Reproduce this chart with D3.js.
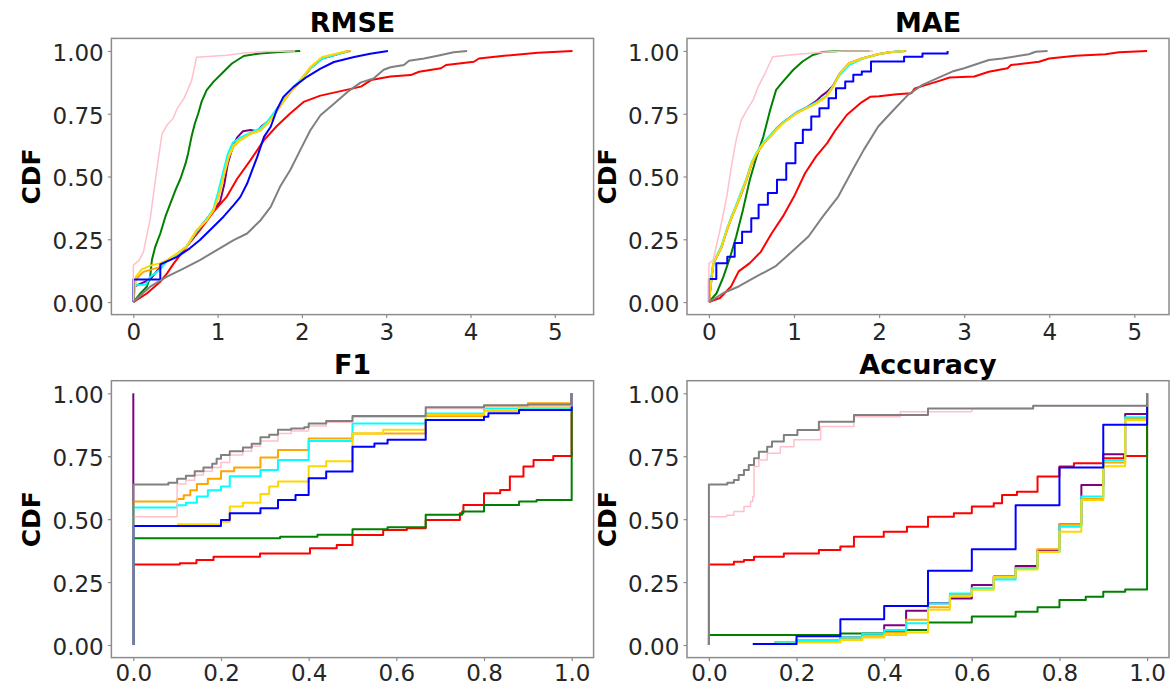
<!DOCTYPE html>
<html>
<head>
<meta charset="utf-8">
<script src="https://cdn.jsdelivr.net/npm/d3@7/dist/d3.min.js"></script>
<style>
  body { margin: 0; background: #fff; }
  svg { display: block; }
</style>
</head>
<body>
<div id="container"></div>
<script>
// series drawn in this order (last on top)
const seriesKeys = ['purple', 'red', 'green', 'orange', 'cyan', 'gold', 'blue', 'pink', 'gray'];
const yTicks = [0, 0.25, 0.5, 0.75, 1.0];
const errTicks = [0, 1, 2, 3, 4, 5];
const rateTicks = [0, 0.2, 0.4, 0.6, 0.8, 1.0];

// ---- RMSE ----
const rmsePink = [[0,0],[0,0.146],[0.07,0.167],[0.12,0.2],[0.2,0.33],[0.28,0.53],[0.34,0.67],[0.4,0.705],[0.47,0.73],[0.52,0.77],[0.6,0.81],[0.69,0.88],[0.75,0.975],[1.11,0.983],[1.31,0.992],[1.59,0.998],[1.92,1.0]];
const rmseGreen = [[0,0],[0.08,0.033],[0.16,0.061],[0.2,0.1],[0.22,0.167],[0.26,0.22],[0.32,0.273],[0.38,0.34],[0.44,0.393],[0.5,0.446],[0.56,0.492],[0.62,0.552],[0.65,0.592],[0.69,0.658],[0.73,0.711],[0.77,0.751],[0.81,0.798],[0.87,0.844],[0.95,0.877],[1.05,0.91],[1.17,0.95],[1.31,0.98],[1.5,0.99],[1.82,0.998],[1.98,1.0]];
const rmsePurple = [[0,0],[0,0.06],[0.2,0.09],[0.32,0.14],[0.4,0.165],[0.52,0.19],[0.63,0.22],[0.75,0.28],[0.87,0.33],[0.96,0.37],[1.03,0.4],[1.08,0.47],[1.12,0.55],[1.18,0.62],[1.23,0.655],[1.3,0.68],[1.39,0.685],[1.47,0.68],[1.52,0.7],[1.6,0.72],[1.68,0.75],[1.77,0.795],[1.87,0.84],[1.98,0.88],[2.1,0.93],[2.24,0.97],[2.4,0.985],[2.55,1.0]];
const rmseCyan = [[0,0],[0,0.066],[0.15,0.07],[0.2,0.1],[0.32,0.13],[0.4,0.165],[0.52,0.19],[0.63,0.22],[0.75,0.28],[0.87,0.33],[0.95,0.37],[1.0,0.43],[1.06,0.51],[1.12,0.59],[1.18,0.635],[1.27,0.655],[1.39,0.675],[1.5,0.69],[1.58,0.715],[1.66,0.75],[1.76,0.795],[1.86,0.84],[1.98,0.885],[2.1,0.93],[2.24,0.97],[2.4,0.985],[2.55,1.0]];
const rmseOrange = [[0,0],[0.03,0.09],[0.12,0.12],[0.32,0.14],[0.4,0.165],[0.52,0.192],[0.63,0.22],[0.75,0.285],[0.87,0.326],[0.95,0.366],[1.01,0.42],[1.07,0.5],[1.13,0.575],[1.19,0.62],[1.27,0.645],[1.39,0.67],[1.51,0.684],[1.59,0.71],[1.67,0.744],[1.76,0.79],[1.86,0.835],[1.98,0.88],[2.1,0.93],[2.24,0.972],[2.4,0.987],[2.58,1.0]];
const rmseGold = [[0,0],[0.03,0.1],[0.1,0.13],[0.2,0.145],[0.32,0.155],[0.4,0.167],[0.52,0.194],[0.63,0.22],[0.75,0.286],[0.87,0.326],[0.95,0.366],[1.01,0.419],[1.07,0.499],[1.13,0.578],[1.19,0.625],[1.27,0.645],[1.39,0.671],[1.51,0.684],[1.59,0.711],[1.67,0.744],[1.76,0.79],[1.86,0.837],[1.98,0.883],[2.1,0.936],[2.24,0.976],[2.38,0.987],[2.54,1.0]];
const rmseBlue = [[0,0],[0,0.09],[0.32,0.09],[0.32,0.15],[0.52,0.18],[0.67,0.214],[0.79,0.247],[0.95,0.3],[1.07,0.34],[1.19,0.386],[1.27,0.419],[1.35,0.472],[1.41,0.525],[1.47,0.578],[1.55,0.658],[1.63,0.698],[1.7,0.764],[1.78,0.817],[1.9,0.857],[2.06,0.897],[2.22,0.93],[2.38,0.956],[2.62,0.976],[2.81,0.989],[3.02,1.0]];
const rmseRed = [[0,0],[0.16,0.034],[0.32,0.081],[0.4,0.114],[0.48,0.154],[0.63,0.22],[0.79,0.286],[0.95,0.359],[1.11,0.42],[1.23,0.49],[1.39,0.565],[1.55,0.645],[1.7,0.7],[1.86,0.751],[2.02,0.797],[2.22,0.822],[2.46,0.84],[2.7,0.858],[2.82,0.884],[3.05,0.898],[3.29,0.904],[3.39,0.917],[3.65,0.931],[3.71,0.944],[4.04,0.957],[4.1,0.97],[4.4,0.981],[4.8,0.993],[5.21,1.0]];
const rmseGray = [[0,0],[0.2,0.061],[0.4,0.101],[0.6,0.134],[0.79,0.167],[0.99,0.207],[1.19,0.247],[1.35,0.273],[1.51,0.326],[1.63,0.379],[1.74,0.459],[1.86,0.525],[1.98,0.605],[2.1,0.684],[2.22,0.744],[2.38,0.79],[2.54,0.837],[2.7,0.875],[2.85,0.89],[2.97,0.925],[3.05,0.935],[3.21,0.944],[3.27,0.961],[3.45,0.97],[3.61,0.981],[3.8,0.995],[3.96,1.0]];

// ---- MAE ----
const maePink = [[0,0],[0,0.154],[0.05,0.167],[0.13,0.287],[0.21,0.42],[0.27,0.552],[0.32,0.645],[0.38,0.725],[0.46,0.772],[0.52,0.805],[0.58,0.858],[0.66,0.911],[0.75,0.977],[0.95,0.984],[1.26,0.993],[1.57,1.0],[1.93,1.0]];
const maeGreen = [[0,0],[0.09,0.035],[0.17,0.1],[0.25,0.18],[0.32,0.26],[0.4,0.367],[0.48,0.486],[0.56,0.579],[0.64,0.659],[0.72,0.765],[0.79,0.845],[0.87,0.878],[0.99,0.924],[1.1,0.958],[1.22,0.984],[1.34,0.996],[1.54,1.0],[1.89,1.0]];
const maePurple = [[0,0],[0.03,0.09],[0.05,0.15],[0.09,0.18],[0.15,0.22],[0.21,0.285],[0.27,0.34],[0.32,0.38],[0.38,0.43],[0.44,0.485],[0.5,0.55],[0.56,0.59],[0.64,0.632],[0.72,0.66],[0.79,0.69],[0.87,0.715],[0.95,0.735],[1.03,0.755],[1.15,0.775],[1.26,0.8],[1.32,0.82],[1.38,0.835],[1.46,0.862],[1.54,0.911],[1.65,0.951],[1.81,0.971],[2.0,0.988],[2.12,0.995],[2.3,1.0]];
const maeCyan = [[0,0],[0,0.07],[0.04,0.12],[0.06,0.16],[0.1,0.19],[0.15,0.225],[0.21,0.29],[0.27,0.345],[0.32,0.385],[0.38,0.44],[0.44,0.49],[0.5,0.555],[0.56,0.595],[0.64,0.635],[0.72,0.665],[0.79,0.69],[0.87,0.715],[0.95,0.735],[1.03,0.755],[1.15,0.775],[1.26,0.795],[1.38,0.82],[1.46,0.86],[1.54,0.905],[1.65,0.945],[1.81,0.97],[2.0,0.988],[2.12,0.995],[2.28,1.0]];
const maeOrange = [[0,0],[0.03,0.09],[0.05,0.15],[0.09,0.178],[0.15,0.218],[0.21,0.285],[0.27,0.338],[0.32,0.378],[0.38,0.432],[0.44,0.485],[0.5,0.55],[0.56,0.59],[0.64,0.63],[0.72,0.658],[0.79,0.685],[0.87,0.712],[0.95,0.732],[1.03,0.752],[1.15,0.772],[1.26,0.791],[1.38,0.818],[1.46,0.858],[1.54,0.911],[1.65,0.951],[1.81,0.971],[2.0,0.988],[2.14,0.995],[2.32,1.0]];
const maeGold = [[0,0],[0.03,0.094],[0.05,0.154],[0.09,0.18],[0.15,0.22],[0.21,0.287],[0.27,0.34],[0.32,0.38],[0.38,0.433],[0.44,0.486],[0.5,0.552],[0.56,0.592],[0.64,0.632],[0.72,0.659],[0.79,0.685],[0.87,0.712],[0.95,0.732],[1.03,0.752],[1.15,0.772],[1.26,0.791],[1.38,0.818],[1.46,0.858],[1.54,0.911],[1.65,0.951],[1.81,0.971],[2.0,0.988],[2.12,0.995],[2.3,1.0]];
const maeBlue = [[0,0],[0,0.092],[0.087,0.155],[0.216,0.18],[0.303,0.235],[0.39,0.28],[0.498,0.334],[0.584,0.387],[0.693,0.434],[0.8,0.487],[0.909,0.553],[1.017,0.633],[1.104,0.686],[1.203,0.739],[1.299,0.772],[1.407,0.812],[1.494,0.851],[1.602,0.878],[1.697,0.905],[1.797,0.918],[1.905,0.958],[2.294,0.977],[2.51,0.99],[2.805,1.0]];
const maeRed = [[0,0],[0.13,0.016],[0.26,0.062],[0.35,0.122],[0.48,0.155],[0.61,0.2],[0.74,0.275],[0.87,0.341],[1.0,0.42],[1.13,0.513],[1.26,0.58],[1.39,0.633],[1.49,0.686],[1.62,0.745],[1.78,0.792],[1.9,0.818],[2.0,0.82],[2.21,0.828],[2.38,0.832],[2.42,0.851],[2.68,0.878],[2.83,0.894],[3.12,0.898],[3.29,0.917],[3.51,0.931],[3.55,0.944],[3.88,0.957],[4.0,0.97],[4.31,0.981],[4.66,0.987],[4.82,0.995],[5.15,1.0]];
const maeGray = [[0,0],[0.17,0.036],[0.35,0.062],[0.56,0.102],[0.78,0.142],[1.0,0.208],[1.17,0.261],[1.34,0.341],[1.52,0.42],[1.69,0.527],[1.82,0.606],[1.99,0.699],[2.17,0.765],[2.34,0.825],[2.51,0.865],[2.68,0.891],[2.86,0.918],[3.0,0.931],[3.29,0.964],[3.45,0.97],[3.76,0.987],[3.84,0.997],[3.98,1.0]];

// ---- F1 (step curves) ----
const f1Purple = [[0,0],[0,1.0]];
const f1Red = [[0,0],[0,0.32],[0.106,0.325],[0.144,0.338],[0.183,0.351],[0.289,0.364],[0.403,0.384],[0.464,0.397],[0.5,0.437],[0.57,0.457],[0.624,0.464],[0.667,0.497],[0.745,0.523],[0.753,0.556],[0.8,0.603],[0.837,0.616],[0.859,0.669],[0.89,0.709],[0.913,0.735],[0.958,0.751],[1.0,1.0]];
const f1Green = [[0,0],[0,0.424],[0.335,0.43],[0.42,0.438],[0.5,0.46],[0.58,0.468],[0.667,0.517],[0.75,0.53],[0.8,0.556],[0.88,0.57],[0.92,0.576],[1.0,1.0]];
const f1Orange = [[0,0],[0,0.57],[0.1,0.58],[0.115,0.595],[0.13,0.615],[0.145,0.64],[0.17,0.66],[0.2,0.69],[0.23,0.705],[0.29,0.745],[0.33,0.775],[0.4,0.82],[0.5,0.84],[0.667,0.91],[0.8,0.95],[0.9,0.96],[1.0,1.0]];
const f1Cyan = [[0,0],[0,0.546],[0.1,0.555],[0.12,0.565],[0.145,0.59],[0.17,0.615],[0.2,0.63],[0.22,0.67],[0.29,0.695],[0.33,0.735],[0.4,0.81],[0.5,0.88],[0.667,0.92],[0.8,0.94],[1.0,1.0]];
const f1Gold = [[0.1,0.48],[0.2,0.49],[0.22,0.55],[0.25,0.565],[0.29,0.6],[0.31,0.63],[0.33,0.65],[0.4,0.71],[0.44,0.73],[0.5,0.84],[0.57,0.855],[0.667,0.915],[0.8,0.93],[0.88,0.945],[1.0,1.0]];
const f1Blue = [[0,0],[0,0.473],[0.2,0.497],[0.22,0.523],[0.29,0.543],[0.33,0.576],[0.37,0.596],[0.4,0.662],[0.44,0.689],[0.5,0.788],[0.55,0.801],[0.58,0.815],[0.667,0.894],[0.8,0.907],[0.81,0.921],[0.88,0.934],[1.0,1.0]];
const f1Pink = [[0,0],[0,0.51],[0.1,0.64],[0.12,0.655],[0.14,0.675],[0.16,0.69],[0.18,0.705],[0.2,0.725],[0.22,0.755],[0.25,0.77],[0.27,0.79],[0.29,0.81],[0.33,0.84],[0.36,0.85],[0.4,0.87],[0.44,0.885],[0.5,0.905],[0.667,0.94],[0.8,0.95],[1.0,1.0]];
const f1Gray = [[0,0],[0,0.638],[0.08,0.645],[0.1,0.66],[0.12,0.672],[0.14,0.69],[0.16,0.705],[0.18,0.72],[0.19,0.74],[0.2,0.755],[0.22,0.77],[0.25,0.785],[0.27,0.8],[0.29,0.825],[0.31,0.835],[0.33,0.855],[0.36,0.86],[0.39,0.865],[0.4,0.88],[0.44,0.89],[0.5,0.91],[0.667,0.945],[0.8,0.952],[0.9,0.955],[1.0,1.0]];

// ---- Accuracy (step curves) ----
const accPurple = [[0.15,0.01],[0.2,0.02],[0.3,0.03],[0.35,0.045],[0.4,0.079],[0.45,0.136],[0.5,0.166],[0.55,0.185],[0.6,0.238],[0.65,0.272],[0.7,0.314],[0.75,0.377],[0.8,0.48],[0.85,0.636],[0.9,0.758],[0.95,0.918],[1.0,1.0]];
const accRed = [[0,0],[0,0.32],[0.057,0.331],[0.08,0.338],[0.103,0.351],[0.171,0.364],[0.251,0.377],[0.3,0.391],[0.331,0.43],[0.399,0.45],[0.452,0.47],[0.5,0.51],[0.559,0.523],[0.6,0.55],[0.65,0.563],[0.669,0.596],[0.703,0.609],[0.75,0.669],[0.8,0.709],[0.833,0.722],[0.9,0.742],[0.947,0.751],[1.0,1.0]];
const accGreen = [[0,0],[0,0.04],[0.3,0.046],[0.4,0.053],[0.45,0.06],[0.5,0.089],[0.6,0.113],[0.7,0.132],[0.75,0.15],[0.8,0.179],[0.86,0.192],[0.9,0.212],[0.95,0.221],[1.0,1.0]];
const accOrange = [[0.15,0.008],[0.2,0.015],[0.3,0.025],[0.35,0.035],[0.4,0.05],[0.45,0.1],[0.5,0.15],[0.55,0.2],[0.6,0.225],[0.65,0.268],[0.7,0.305],[0.75,0.38],[0.8,0.48],[0.85,0.58],[0.9,0.725],[0.95,0.9],[1.0,1.0]];
const accCyan = [[0.15,0.012],[0.2,0.02],[0.3,0.03],[0.35,0.045],[0.4,0.06],[0.45,0.086],[0.5,0.165],[0.55,0.205],[0.6,0.225],[0.65,0.26],[0.7,0.305],[0.75,0.37],[0.8,0.47],[0.85,0.59],[0.9,0.735],[0.95,0.905],[1.0,1.0]];
const accGold = [[0.15,0.005],[0.2,0.01],[0.3,0.02],[0.35,0.03],[0.4,0.04],[0.45,0.05],[0.5,0.14],[0.55,0.195],[0.6,0.22],[0.65,0.27],[0.7,0.3],[0.75,0.37],[0.8,0.45],[0.85,0.576],[0.9,0.71],[0.95,0.894],[1.0,1.0]];
const accBlue = [[0.1,0.004],[0.2,0.035],[0.3,0.102],[0.4,0.155],[0.5,0.295],[0.6,0.38],[0.7,0.555],[0.8,0.705],[0.9,0.875],[1.0,1.0]];
const accPink = [[0,0],[0,0.51],[0.04,0.515],[0.057,0.53],[0.08,0.55],[0.095,0.57],[0.1,0.589],[0.103,0.709],[0.114,0.735],[0.133,0.762],[0.163,0.788],[0.194,0.815],[0.255,0.868],[0.331,0.907],[0.437,0.927],[0.6,0.94],[0.74,0.95],[1.0,1.0]];
const accGray = [[0,0],[0,0.638],[0.042,0.645],[0.057,0.656],[0.068,0.675],[0.08,0.695],[0.091,0.715],[0.103,0.742],[0.114,0.768],[0.133,0.788],[0.144,0.808],[0.171,0.834],[0.202,0.854],[0.251,0.887],[0.331,0.914],[0.5,0.94],[0.74,0.95],[1.0,1.0]];

// ---- styling ----
const colors = {
    purple: '#800080', red: '#ff0000', green: '#008000', orange: '#ffa500', cyan: '#00ffff',
    gold: '#ffd700', blue: '#0000ff', pink: '#ffc0cb', gray: '#808080'
};
const widths = { pink: 1.5 };
const FONT = '"DejaVu Sans", sans-serif';

const W = 1171, H = 686;
const colLeft = [111.4, 593.6], colRight = [687, 1169];
const rowTop = [38.4, 314.6], rowBottom = [380.7, 657.6];

const panels = [
    { title: 'RMSE', xs: colLeft, ys: rowTop, xDomain: [-0.26, 5.46], xTicks: errTicks, fmt: d3.format('d'), pad: 5.7,
      data: [rmsePurple, rmseRed, rmseGreen, rmseOrange, rmseCyan, rmseGold, rmseBlue, rmsePink, rmseGray], step: [] },
    { title: 'MAE', xs: colRight, ys: rowTop, xDomain: [-0.2575, 5.4075], xTicks: errTicks, fmt: d3.format('d'), pad: 5.7,
      data: [maePurple, maeRed, maeGreen, maeOrange, maeCyan, maeGold, maeBlue, maePink, maeGray], step: ['blue'] },
    { title: 'F1', xs: colLeft, ys: rowBottom, xDomain: [-0.05, 1.05], xTicks: rateTicks, fmt: d3.format('.1f'), pad: 3.4,
      data: [f1Purple, f1Red, f1Green, f1Orange, f1Cyan, f1Gold, f1Blue, f1Pink, f1Gray], step: seriesKeys },
    { title: 'Accuracy', xs: colRight, ys: rowBottom, xDomain: [-0.05, 1.05], xTicks: rateTicks, fmt: d3.format('.1f'), pad: 3.4,
      data: [accPurple, accRed, accGreen, accOrange, accCyan, accGold, accBlue, accPink, accGray], step: seriesKeys }
];

const svg = d3.select('#container').append('svg')
    .attr('width', W)
    .attr('height', H)
    .style('background', '#fff');

function drawPanel(p) {
    const x = d3.scaleLinear().domain(p.xDomain).range(p.xs);
    const y = d3.scaleLinear().domain([-0.05, 1.05]).range([p.ys[1], p.ys[0]]);
    const g = svg.append('g');

    // curves
    p.data.forEach((pts, i) => {
        const key = seriesKeys[i];
        const line = d3.line()
            .x(d => x(d[0]))
            .y(d => y(d[1]))
            .curve(p.step.includes(key) ? d3.curveStepAfter : d3.curveLinear);
        g.append('path')
            .attr('d', line(pts))
            .attr('fill', 'none')
            .attr('stroke', colors[key])
            .attr('stroke-width', widths[key] || 2)
            .attr('stroke-linejoin', 'round');
    });

    // frame
    g.append('rect')
        .attr('x', p.xs[0]).attr('y', p.ys[0])
        .attr('width', p.xs[1] - p.xs[0]).attr('height', p.ys[1] - p.ys[0])
        .attr('fill', 'none').attr('stroke', '#8c8c8c').attr('stroke-width', 1.5);

    // axes
    const xAxis = g.append('g')
        .attr('transform', `translate(0,${p.ys[1]})`)
        .call(d3.axisBottom(x).tickValues(p.xTicks).tickFormat(p.fmt).tickSize(3.5).tickPadding(p.pad));
    const yAxis = g.append('g')
        .attr('transform', `translate(${p.xs[0]},0)`)
        .call(d3.axisLeft(y).tickValues(yTicks).tickFormat(d3.format('.2f')).tickSize(3.5).tickPadding(4.2));
    [xAxis, yAxis].forEach(a => {
        a.select('.domain').remove();
        a.selectAll('line').attr('stroke', '#8c8c8c').attr('stroke-width', 1.2);
        a.selectAll('text').attr('font-family', FONT).attr('font-size', 23).attr('fill', '#262626');
    });
    yAxis.selectAll('text').attr('dy', '0.41em');

    // title
    g.append('text')
        .attr('x', (p.xs[0] + p.xs[1]) / 2).attr('y', p.ys[0] - 6.7)
        .attr('text-anchor', 'middle')
        .attr('font-family', FONT).attr('font-weight', 'bold').attr('font-size', 27)
        .text(p.title);

    // y label
    g.append('text')
        .attr('transform', `translate(${p.xs[0] - 71.4},${(p.ys[0] + p.ys[1]) / 2}) rotate(-90)`)
        .attr('text-anchor', 'middle')
        .attr('font-family', FONT).attr('font-weight', 'bold').attr('font-size', 25)
        .text('CDF');
}

panels.forEach(drawPanel);
</script>
</body>
</html>
